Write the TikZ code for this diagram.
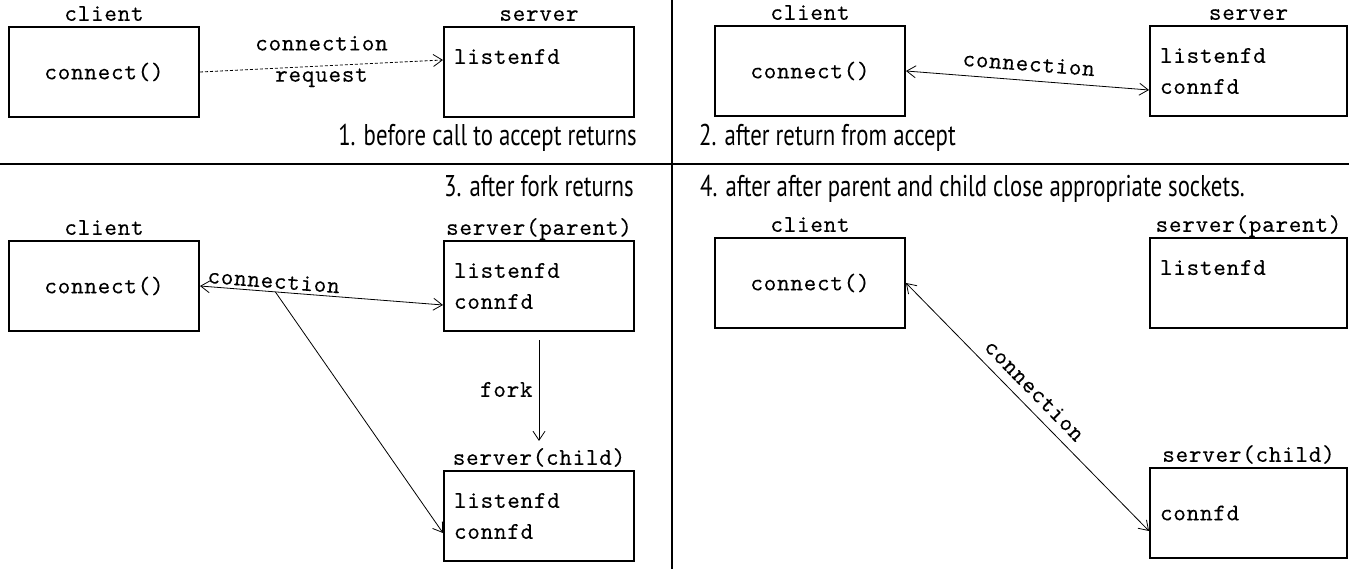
\documentclass[tikz,border=0pt]{standalone}
\usepackage{fontspec}
\usepackage{tikz}
\usetikzlibrary{positioning, arrows.meta}

\newfontfamily\boxfont{lmmono10-regular}[Extension=.otf, LetterSpace=3.0, FakeBold=0.12]
\newfontfamily\capfont{PT Sans}[FakeStretch=0.76]
\newcommand{\boxtext}{\boxfont\fontsize{24}{31}\selectfont}
\newcommand{\captext}{\capfont\fontsize{30}{36}\selectfont}

\begin{document}
\begin{tikzpicture}[x=1pt, y=-1pt, >={Straight Barb[length=9pt,width=12pt]}]
    % Styles
    \tikzstyle{cbox} = [rectangle, draw, line width=2pt, minimum width=190pt, minimum height=90pt, font=\boxtext]
    \tikzstyle{sbox} = [cbox, text width=170pt, align=left, inner xsep=10pt]
    \tikzstyle{wide} = [minimum width=197pt, text width=177pt]
    \tikzstyle{link} = [draw, line width=0.8pt, font=\boxtext, inner sep=2pt]
    \tikzstyle{caption} = [font=\captext, inner sep=0pt]
    \tikzstyle{every label} = [font=\boxtext, text depth=4pt, inner sep=1pt]

    \useasboundingbox (0,0) rectangle (1349,569);

    % --- FRAME ---
    \draw [line width=1.5pt] (0,164) -- (1349,164);
    \draw [line width=1.5pt] (672,0) -- (672,569);

    % --- PANEL 1: BEFORE ACCEPT RETURNS ---
    \node [cbox, label=above:client] (cli1) at (104,72) {connect()};
    \node [sbox, right=243pt of cli1, label=above:server] (srv1) {listenfd\\\mbox{}};
    \path [link, ->, dash pattern=on 3pt off 2pt] (cli1.east) -- node[above=13pt] {connection} node[below=0pt] {request} ([yshift=12pt]srv1.west);
    \node [caption, anchor=base east] (cap1) at (637,146) {1. before call to accept returns};

    % --- PANEL 2: AFTER ACCEPT ---
    \node [cbox, label=above:client] (cli2) at (810,71) {connect()};
    \node [sbox, wide, right=243pt of cli2, label=above:server] (srv2) {listenfd\\connfd};
    \path [link, <->] (cli2.east) -- node[above=7pt, sloped] {connection} ([yshift=-19pt]srv2.west);
    \node [caption, anchor=base west] (cap2) at (699,146) {2. after return from accept};

    % --- PANEL 3: AFTER FORK ---
    \node [caption, anchor=base east] (cap3) at (634,197) {3. after fork returns};
    \node [cbox, label=above:client] (cli3) at (104,286) {connect()};
    \node [sbox, right=243pt of cli3, label={[name=par3lbl]above:server(parent)}] (par3) {listenfd\\connfd};
    \node [sbox, below=138pt of par3, label={[name=chd3lbl]above:server(child)}] (chd3) {listenfd\\connfd};
    \path [link, <->] (cli3.east) -- coordinate[pos=0.31] (split3) node[pos=0.3, sloped, above=1pt] {connection} ([yshift=-19pt]par3.west);
    \path [link, ->] (split3) -- ([yshift=-17pt]chd3.west);
    \path [link, ->, shorten <=8pt, shorten >=6pt] (par3) -- node[left=4pt] {fork} (chd3lbl);

    % --- PANEL 4: AFTER CLOSE ---
    \node [caption, anchor=base west] (cap4) at (700,197) {4. after after parent and child close appropriate sockets.};
    \node [cbox, label=above:client] (cli4) at (810,283) {connect()};
    \node [sbox, wide, right=243pt of cli4, label=above:server(parent)] (par4) {listenfd\\\mbox{}};
    \node [sbox, wide, below=138pt of par4, label=above:server(child)] (chd4) {connfd};
    \path [link, <->] (cli4.east) -- node[pos=0.48, sloped, above=7pt] {connection} ([yshift=-18pt]chd4.west);

\end{tikzpicture}
\end{document}
